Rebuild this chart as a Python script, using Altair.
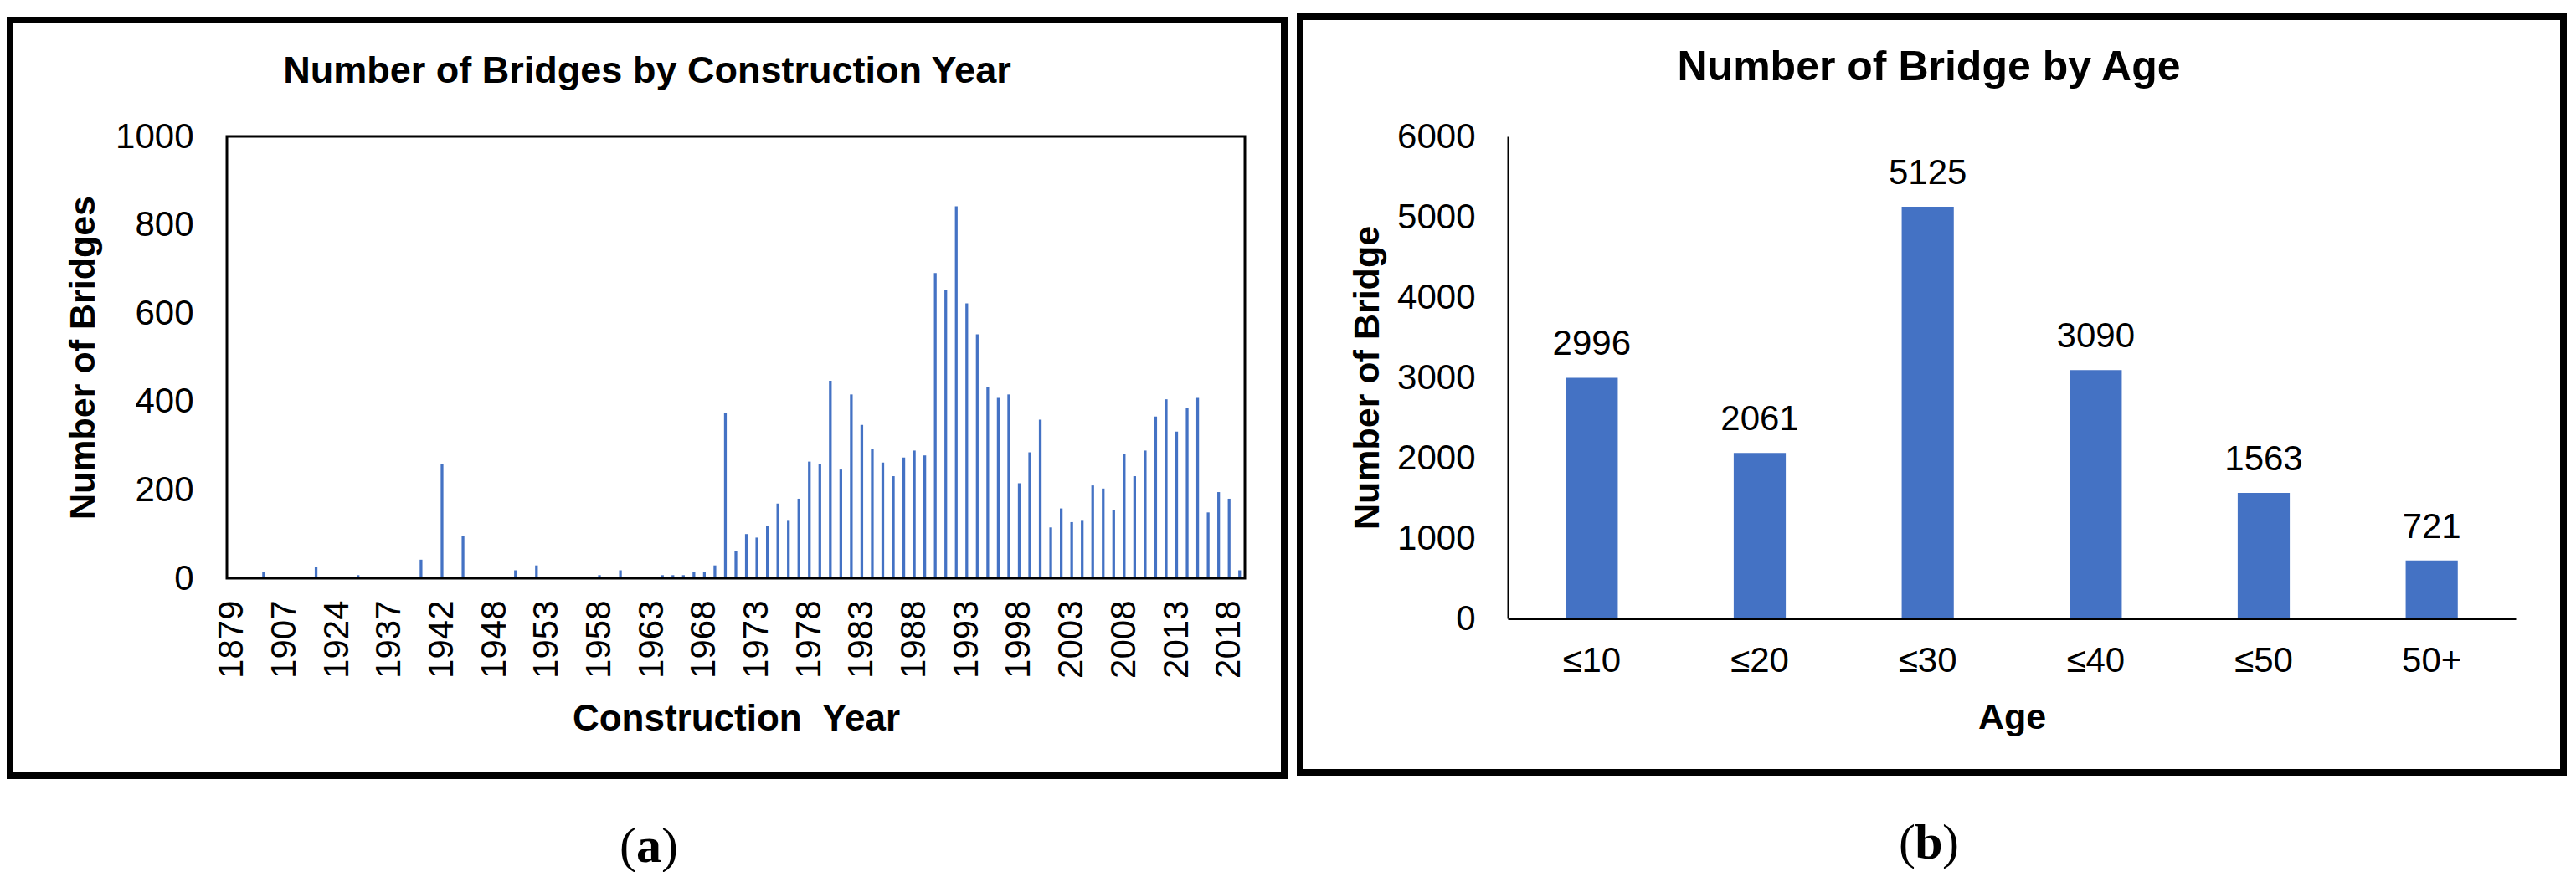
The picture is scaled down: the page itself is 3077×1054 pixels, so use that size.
import altair as alt
import pandas as pd

# ---------------- data ----------------
years = ["1879", "1890", "1897", "1900", "1905", "1907", "1910", "1912", "1915", "1920",
         "1924", "1925", "1927", "1930", "1935", "1937", "1938", "1939", "1940", "1941",
         "1942", "1943", "1944", "1945", "1946", "1948", "1949", "1950", "1951", "1952",
         "1953", "1954", "1955", "1956", "1957", "1958", "1959", "1960", "1961", "1962",
         "1963", "1964", "1965", "1966", "1967", "1968", "1969", "1970", "1971", "1972",
         "1973", "1974", "1975", "1976", "1977", "1978", "1979", "1980", "1981", "1982",
         "1983", "1984", "1985", "1986", "1987", "1988", "1989", "1990", "1991", "1992",
         "1993", "1994", "1995", "1996", "1997", "1998", "1999", "2000", "2001", "2002",
         "2003", "2004", "2005", "2006", "2007", "2008", "2009", "2010", "2011", "2012",
         "2013", "2014", "2015", "2016", "2017", "2018", "2019"]
bridge_counts = [1, 1, 1, 15, 1, 1, 1, 1, 26, 1,
                 1, 1, 7, 1, 1, 1, 1, 1, 42, 1,
                 258, 1, 96, 1, 1, 1, 1, 18, 1, 29,
                 1, 1, 1, 1, 1, 7, 3, 18, 1, 3,
                 3, 7, 7, 7, 15, 15, 29, 374, 61, 100,
                 92, 119, 169, 130, 180, 264, 258, 447, 246, 416,
                 347, 293, 262, 231, 273, 289, 278, 691, 652, 842,
                 622, 552, 432, 408, 416, 215, 285, 359, 115, 158,
                 127, 130, 210, 203, 154, 281, 231, 289, 366, 405,
                 332, 386, 408, 149, 195, 180, 18]
year_tick_labels = ["1879", "1907", "1924", "1937", "1942", "1948", "1953", "1958", "1963",
                    "1968", "1973", "1978", "1983", "1988", "1993", "1998", "2003", "2008",
                    "2013", "2018"]
y_ticks_a = [0, 200, 400, 600, 800, 1000]

age_groups = ["≤10", "≤20", "≤30", "≤40", "≤50", "50+"]
age_counts = [2996, 2061, 5125, 3090, 1563, 721]
y_ticks_b = [0, 1000, 2000, 3000, 4000, 5000, 6000]

BLUE = "#4472C4"
SANS = "Liberation Sans"
SERIF = "Liberation Serif"

df_a = pd.DataFrame({"year": years, "count": bridge_counts})
df_b = pd.DataFrame({"age": age_groups, "count": age_counts})
one = pd.DataFrame({"k": [0]})

# ---------------- panel (a) ----------------
WA, HA = 1216, 528

bars_a = alt.Chart(df_a).mark_bar(color=BLUE).encode(
    x=alt.X("year:N", sort=None,
            scale=alt.Scale(paddingInner=0.74, paddingOuter=0.37),
            axis=alt.Axis(values=year_tick_labels, labelAngle=-90, labelFont=SANS,
                          labelFontSize=42, labelColor="black", ticks=False, domain=False,
                          labelPadding=26, labelOverlap=False,
                          title="Construction \u00a0Year", titleFont=SANS, titleFontSize=44,
                          titleFontWeight="bold", titleColor="black", titleY=168,
                          titleBaseline="middle")),
    y=alt.Y("count:Q", scale=alt.Scale(domain=[0, 1000], nice=False),
            axis=alt.Axis(values=y_ticks_a, format="d", grid=False, ticks=False,
                          domain=False, labelFont=SANS, labelFontSize=42,
                          labelColor="black", labelPadding=40,
                          title="Number of Bridges", titleFont=SANS, titleFontSize=43,
                          titleFontWeight="bold", titleColor="black", titleX=-172,
                          titleY=HA / 2, titleAngle=270, titleAlign="center",
                          titleBaseline="middle")),
)

frame_a = alt.Chart(one).mark_rect(filled=False, stroke="black", strokeWidth=3).encode(
    x=alt.value(0), x2=alt.value(WA), y=alt.value(0), y2=alt.value(HA))

box_a = alt.Chart(one).mark_rect(filled=False, stroke="black", strokeWidth=8).encode(
    x=alt.value(-259), x2=alt.value(1263), y=alt.value(-139), y2=alt.value(764))

title_a = alt.Chart(one).mark_text(
    text="Number of Bridges by Construction Year", font=SANS, fontSize=45,
    fontWeight="bold", color="black", baseline="middle", align="center"
).encode(x=alt.value(502), y=alt.value(-78))

lp_a = alt.Chart(one).mark_text(text="(", font=SERIF, fontSize=60, color="black",
                                align="right", baseline="middle").encode(
    x=alt.value(489), y=alt.value(849))
la_a = alt.Chart(one).mark_text(text="a", font=SERIF, fontSize=60, fontWeight="bold",
                                color="black", align="center", baseline="middle").encode(
    x=alt.value(504), y=alt.value(849))
rp_a = alt.Chart(one).mark_text(text=")", font=SERIF, fontSize=60, color="black",
                                align="left", baseline="middle").encode(
    x=alt.value(519), y=alt.value(849))

panel_a = alt.layer(bars_a, frame_a, box_a, title_a, lp_a, la_a, rp_a).properties(
    width=WA, height=HA)

# ---------------- panel (b) ----------------
WB, HB = 1204, 576

base_b = alt.Chart(df_b).encode(
    x=alt.X("age:N", sort=age_groups,
            scale=alt.Scale(paddingInner=0.69, paddingOuter=0.345),
            axis=alt.Axis(labelAngle=0, ticks=False, domain=True, domainColor="black",
                          domainWidth=3, labelFont=SANS, labelFontSize=42,
                          labelColor="black", labelPadding=30,
                          title="Age", titleFont=SANS, titleFontSize=43,
                          titleFontWeight="bold", titleColor="black", titleY=118,
                          titleBaseline="middle")),
    y=alt.Y("count:Q", scale=alt.Scale(domain=[0, 6000], nice=False),
            axis=alt.Axis(values=y_ticks_b, format="d", grid=False, ticks=False,
                          domain=True, domainColor="black", domainWidth=2,
                          labelFont=SANS, labelFontSize=42, labelColor="black",
                          labelPadding=39,
                          title="Number of Bridge", titleFont=SANS, titleFontSize=43,
                          titleFontWeight="bold", titleColor="black", titleX=-168,
                          titleY=HB / 2, titleAngle=270, titleAlign="center",
                          titleBaseline="middle")),
)

bars_b = base_b.mark_bar(color=BLUE)
labels_b = base_b.mark_text(font=SANS, fontSize=42, color="black", baseline="alphabetic",
                            dy=-27).encode(text="count:Q")

box_b = alt.Chart(one).mark_rect(filled=False, stroke="black", strokeWidth=8).encode(
    x=alt.value(-248), x2=alt.value(1261), y=alt.value(-143), y2=alt.value(760))

title_b = alt.Chart(one).mark_text(
    text="Number of Bridge by Age", font=SANS, fontSize=50,
    fontWeight="bold", color="black", baseline="middle", align="center"
).encode(x=alt.value(503), y=alt.value(-82))

lp_b = alt.Chart(one).mark_text(text="(", font=SERIF, fontSize=60, color="black",
                                align="right", baseline="middle").encode(
    x=alt.value(487), y=alt.value(845))
lb_b = alt.Chart(one).mark_text(text="b", font=SERIF, fontSize=60, fontWeight="bold",
                                color="black", align="center", baseline="middle").encode(
    x=alt.value(503), y=alt.value(845))
rp_b = alt.Chart(one).mark_text(text=")", font=SERIF, fontSize=60, color="black",
                                align="left", baseline="middle").encode(
    x=alt.value(519), y=alt.value(845))

panel_b = alt.layer(bars_b, labels_b, box_b, title_b, lp_b, lb_b, rp_b).properties(
    width=WB, height=HB)

chart = alt.hconcat(panel_a, panel_b, spacing=11).properties(
    padding={"left": 0, "top": 8, "right": 0, "bottom": 0},
    background="white",
).configure_view(strokeWidth=0)

chart.save("out.html", embed_options={"renderer": "svg", "actions": False})
